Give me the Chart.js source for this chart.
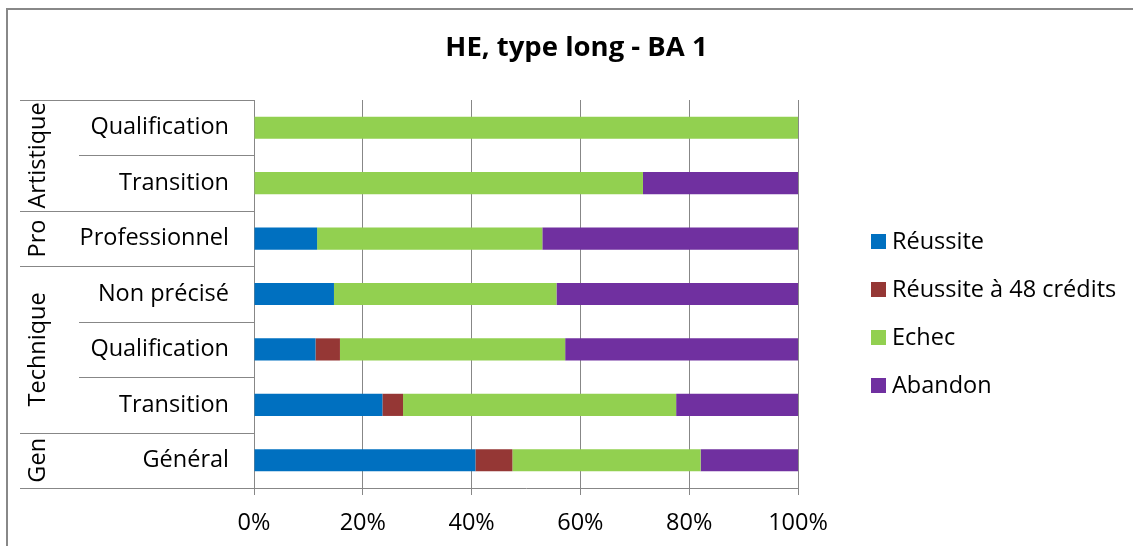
<!DOCTYPE html>
<html>
<head>
<meta charset="utf-8">
<script src="https://cdn.jsdelivr.net/npm/chart.js@4.4.1/dist/chart.umd.min.js"></script>
<style>
  html, body { margin: 0; padding: 0; background: #fff; overflow: hidden; }
  #wrap { position: relative; width: 1133px; height: 546px; overflow: hidden; }
  #frame { position: absolute; left: 6px; top: 8px; width: 1200px; height: 600px; border: 2px solid #888888; box-sizing: border-box; }
  canvas { position: absolute; left: 0; top: 0; }
</style>
</head>
<body>
<div id="wrap">
  <div id="frame"></div>
  <canvas id="c" width="1133" height="546"></canvas>
</div>
<script>
// ---- data ----
const chartTitle = 'HE, type long - BA 1';
const categories = ['Qualification', 'Transition', 'Professionnel', 'Non précisé', 'Qualification', 'Transition', 'Général'];
const groupNames = ['Artistique', 'Pro', 'Technique', 'Gen'];
const groupSizes = [2, 1, 3, 1];
const seriesNames = ['Réussite', 'Réussite à 48 crédits', 'Echec', 'Abandon'];
const reussite   = [0, 0, 11.6, 14.7, 11.3, 23.6, 40.7];
const reussite48 = [0, 0, 0, 0, 4.5, 3.8, 6.8];
const echec      = [100, 71.5, 41.4, 40.9, 41.4, 50.2, 34.6];
const abandon    = [0, 28.5, 47.0, 44.4, 42.8, 22.4, 17.9];
const xTicks = [0, 20, 40, 60, 80, 100];
const seriesColors = ['#0070C0', '#953735', '#92D050', '#7030A0'];

const FONT = "'Open Sans', 'DejaVu Sans', sans-serif";
const GRID = '#878787';
const LABEL_SIZE = 23.5;

Chart.defaults.font.family = FONT;
Chart.defaults.color = '#000';

const seriesValues = [reussite, reussite48, echec, abandon];

// multi-level category separators and group labels
const groupAxisPlugin = {
  id: 'groupAxis',
  afterDraw(chart) {
    const ctx = chart.ctx;
    const ys = chart.scales.y;
    const n = categories.length;
    const boundary = (i) => {
      if (i <= 0) return ys.top;
      if (i >= n) return ys.bottom;
      return (ys.getPixelForValue(i - 1) + ys.getPixelForValue(i)) / 2;
    };
    const groupStarts = new Set();
    let acc = 0;
    groupSizes.forEach(s => { groupStarts.add(acc); acc += s; });
    groupStarts.add(n);
    ctx.save();
    ctx.strokeStyle = GRID;
    ctx.lineWidth = 1;
    for (let i = 0; i <= n; i++) {
      const y = Math.round(boundary(i)) + 0.5;
      const x0 = groupStarts.has(i) ? ys.left : ys.left + 59;
      ctx.beginPath();
      ctx.moveTo(x0, y);
      ctx.lineTo(chart.chartArea.left, y);
      ctx.stroke();
    }
    // group labels
    ctx.fillStyle = '#000';
    ctx.font = LABEL_SIZE + 'px ' + FONT;
    ctx.textAlign = 'center';
    ctx.textBaseline = 'alphabetic';
    let start = 0;
    groupSizes.forEach((s, gi) => {
      const cy = (boundary(start) + boundary(start + s)) / 2;
      ctx.save();
      ctx.translate(ys.left + 25, cy);
      ctx.rotate(-Math.PI / 2);
      ctx.fillText(groupNames[gi], 0, 0);
      ctx.restore();
      start += s;
    });
    ctx.restore();
  }
};

// legend drawn to the right of the plot
const sideLegendPlugin = {
  id: 'sideLegend',
  afterDraw(chart) {
    const ctx = chart.ctx;
    const ca = chart.chartArea;
    const x = ca.right + 73;
    const step = 48;
    const count = chart.data.datasets.length;
    const centre = (ca.top + ca.bottom) / 2 + 19;
    const y0 = centre - step * (count - 1) / 2;
    ctx.save();
    ctx.font = LABEL_SIZE + 'px ' + FONT;
    ctx.textAlign = 'left';
    ctx.textBaseline = 'middle';
    chart.data.datasets.forEach((ds, i) => {
      const y = y0 + i * step;
      ctx.fillStyle = ds.backgroundColor;
      ctx.fillRect(x, Math.round(y - 7.5), 15, 15);
      ctx.fillStyle = '#000';
      ctx.fillText(ds.label, x + 21, y + 1);
    });
    ctx.restore();
  }
};

new Chart(document.getElementById('c'), {
  type: 'bar',
  data: {
    labels: categories,
    datasets: seriesNames.map((name, i) => ({
      label: name,
      data: seriesValues[i],
      backgroundColor: seriesColors[i],
      borderWidth: 0,
      barPercentage: 0.4,
      categoryPercentage: 1.0
    }))
  },
  options: {
    indexAxis: 'y',
    responsive: false,
    animation: false,
    devicePixelRatio: 1,
    layout: { padding: { left: 20, right: 0, top: 0, bottom: 0 } },
    plugins: {
      legend: { display: false },
      tooltip: { enabled: false },
      title: {
        display: true,
        text: chartTitle,
        color: '#000',
        font: { family: FONT, size: 27.5, weight: 'bold' },
        padding: { top: 32, bottom: 35 }
      }
    },
    scales: {
      x: {
        stacked: true,
        min: 0,
        max: 100,
        afterBuildTicks(s) { s.ticks = xTicks.map(v => ({ value: v })); },
        afterFit(s) { s.height = 58; },
        ticks: {
          font: { size: LABEL_SIZE },
          color: '#000',
          padding: 14,
          callback: v => v + '%'
        },
        grid: { color: GRID, lineWidth: 1, drawTicks: true, tickLength: 7, tickColor: GRID },
        border: { display: true, color: GRID, width: 1 }
      },
      y: {
        stacked: true,
        afterFit(s) { s.width = 234; },
        ticks: { font: { size: LABEL_SIZE }, color: '#000', padding: 17 },
        grid: { display: false },
        border: { display: false }
      },
      y2: {
        type: 'category',
        position: 'right',
        display: true,
        afterFit(s) { s.width = 335; },
        ticks: { display: false },
        grid: { display: false },
        border: { display: false }
      }
    }
  },
  plugins: [groupAxisPlugin, sideLegendPlugin]
});
</script>
</body>
</html>
